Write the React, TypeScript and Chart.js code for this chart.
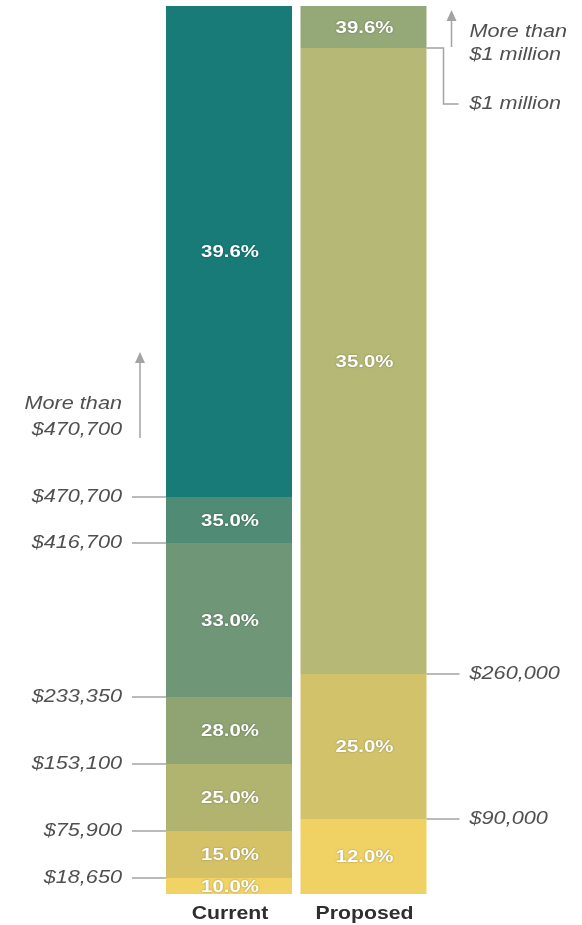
import React, { useEffect, useRef } from "react";
import { Chart, registerables } from "chart.js";

Chart.register(...registerables);

// Categories (bars)
const categories = ["Current", "Proposed"];

// Bands listed bottom-up; heights are the relative band heights
const currentRates = ["10.0%", "15.0%", "25.0%", "28.0%", "33.0%", "35.0%", "39.6%"];
const currentBands = [16, 47, 67, 67, 154, 46, 491];
const currentThresholds = ["$18,650", "$75,900", "$153,100", "$233,350", "$416,700", "$470,700"];
const currentTopNote = ["More than", "$470,700"];

const proposedRates = ["12.0%", "25.0%", "35.0%", "39.6%"];
const proposedBands = [75, 145, 626, 42];
const proposedThresholds = ["$90,000", "$260,000", "$1 million"];
const proposedTopNote = ["More than", "$1 million"];

const currentColors = ["#f0d265", "#d5c267", "#b1b46f", "#8fa472", "#6f9677", "#508b75", "#187b77"];
const proposedColors = ["#efd164", "#d2c36a", "#b6b875", "#95a877"];

const LINE = "#a3a3a3";
const LABEL = "#505050";
const ITALIC = "italic 19px 'Liberation Sans', Arial, sans-serif";
const BOLD_IN = "bold 17px 'Liberation Sans', Arial, sans-serif";
const BOLD_X = "bold 18px 'Liberation Sans', Arial, sans-serif";

function line(ctx: CanvasRenderingContext2D, pts: number[][]) {
  ctx.beginPath();
  ctx.moveTo(pts[0][0], pts[0][1]);
  for (let i = 1; i < pts.length; i++) ctx.lineTo(pts[i][0], pts[i][1]);
  ctx.stroke();
}

function text(ctx: CanvasRenderingContext2D, t: string, x: number, y: number, sx: number) {
  ctx.save();
  ctx.translate(x, y);
  ctx.scale(sx, 1);
  ctx.fillText(t, 0, 0);
  ctx.restore();
}

function arrow(ctx: CanvasRenderingContext2D, x: number, yBase: number, yTip: number) {
  ctx.strokeStyle = LINE;
  ctx.fillStyle = LINE;
  ctx.lineWidth = 1.5;
  line(ctx, [[x, yBase], [x, yTip + 8]]);
  ctx.beginPath();
  ctx.moveTo(x, yTip);
  ctx.lineTo(x - 5, yTip + 11);
  ctx.lineTo(x + 5, yTip + 11);
  ctx.closePath();
  ctx.fill();
}

const annotate = {
  id: "annotate",
  afterDatasetsDraw(chart: any) {
    const ctx: CanvasRenderingContext2D = chart.ctx;
    const area = chart.chartArea;
    const n = chart.data.datasets.length;
    const els: any[][] = [];
    for (let i = 0; i < n; i++) {
      const meta = chart.getDatasetMeta(i);
      els.push(meta.data.map((e: any) => e.getProps(["x", "y", "base", "width"], true)));
    }
    const rates = [currentRates, proposedRates];

    // rate labels inside bars
    ctx.save();
    ctx.beginPath();
    ctx.rect(area.left, area.top, area.right - area.left, area.bottom - area.top);
    ctx.clip();
    ctx.font = BOLD_IN;
    ctx.textAlign = "center";
    ctx.textBaseline = "middle";
    ctx.fillStyle = "#ffffff";
    ctx.shadowColor = "rgba(0,0,0,0.35)";
    ctx.shadowBlur = 2;
    for (let j = 0; j < 2; j++) {
      for (let i = 0; i < n; i++) {
        const t = rates[j][i];
        if (!t) continue;
        const e = els[i][j];
        text(ctx, t, e.x + 1, (e.y + e.base) / 2 + 1, 1.2);
      }
    }
    ctx.restore();

    ctx.save();
    ctx.font = ITALIC;
    ctx.fillStyle = LABEL;
    ctx.strokeStyle = LINE;
    ctx.lineWidth = 1.5;
    ctx.textBaseline = "middle";
    const SX = 1.14;

    // Current thresholds (left)
    const c0 = els[0][0];
    const cLeft = c0.x - c0.width / 2;
    ctx.textAlign = "right";
    currentThresholds.forEach((t, i) => {
      const y = els[i + 1][0].base;
      line(ctx, [[cLeft - 34, y], [cLeft, y]]);
      text(ctx, t, cLeft - 44, y, SX);
    });
    const topBoundary = els[currentThresholds.length][0].base;
    text(ctx, currentTopNote[0], cLeft - 44, topBoundary - 93, SX);
    text(ctx, currentTopNote[1], cLeft - 44, topBoundary - 67, SX);
    arrow(ctx, cLeft - 26, topBoundary - 59, topBoundary - 145);

    // Proposed thresholds (right)
    const p0 = els[0][1];
    const pRight = p0.x + p0.width / 2;
    ctx.strokeStyle = LINE;
    ctx.fillStyle = LABEL;
    ctx.lineWidth = 1.5;
    ctx.textAlign = "left";
    proposedThresholds.forEach((t, i) => {
      const y = els[i + 1][1].base;
      if (i < proposedThresholds.length - 1) {
        line(ctx, [[pRight, y], [pRight + 33, y]]);
        text(ctx, t, pRight + 43, y, SX);
      } else {
        line(ctx, [[pRight, y], [pRight + 17, y], [pRight + 17, y + 56], [pRight + 32, y + 56]]);
        text(ctx, t, pRight + 43, y + 56, SX);
        text(ctx, proposedTopNote[0], pRight + 43, area.top + 26, SX);
        text(ctx, proposedTopNote[1], pRight + 43, area.top + 49, SX);
        arrow(ctx, pRight + 25, y - 1, area.top + 4);
      }
    });

    // Category labels
    const xs = chart.scales.x;
    ctx.font = BOLD_X;
    ctx.fillStyle = "#2e2e2e";
    ctx.textAlign = "center";
    categories.forEach((c, i) => {
      text(ctx, c, xs.getPixelForValue(i) + 1, area.bottom + 20, 1.18);
    });
    ctx.restore();
  },
};

export default function App() {
  const ref = useRef<HTMLCanvasElement>(null);
  useEffect(() => {
    document.body.style.margin = "0";
    const n = Math.max(currentBands.length, proposedBands.length);
    const datasets = [];
    for (let i = 0; i < n; i++) {
      datasets.push({
        label: "band " + (i + 1),
        data: [currentBands[i] ?? null, proposedBands[i] ?? null],
        backgroundColor: [currentColors[i] ?? "transparent", proposedColors[i] ?? "transparent"],
        borderWidth: 0,
        barPercentage: 0.937,
        categoryPercentage: 1,
      });
    }
    const total = currentBands.reduce((a, b) => a + b, 0);
    const chart = new Chart(ref.current!, {
      type: "bar",
      data: { labels: categories, datasets },
      options: {
        responsive: false,
        animation: false,
        devicePixelRatio: 1,
        layout: { padding: { left: 161.75, right: 151.25, top: 6, bottom: 31 } },
        plugins: { legend: { display: false }, tooltip: { enabled: false } },
        scales: {
          x: { stacked: true, display: false },
          y: { stacked: true, display: false, min: 0, max: total },
        },
      },
      plugins: [annotate],
    });
    return () => chart.destroy();
  }, []);
  return (
    <div style={{ width: 582, height: 925, background: "#ffffff" }}>
      <canvas ref={ref} width={582} height={925} />
    </div>
  );
}
